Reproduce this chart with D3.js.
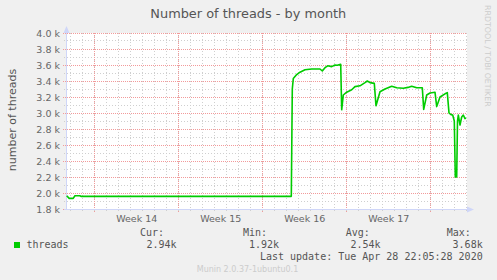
<!DOCTYPE html>
<html>
<head>
<meta charset="utf-8">
<script src="https://cdn.jsdelivr.net/npm/d3@7"></script>
<style>
  html, body { margin: 0; padding: 0; background: #f0f0f0; }
  svg { display: block; }
</style>
</head>
<body>
<div class="chart"></div>
<script>
// sample times (UTC) and thread counts
const times = [
  '2020-03-27T16:00', '2020-03-27T21:00', '2020-03-28T05:00', '2020-03-28T08:30',
  '2020-03-28T18:30', '2020-03-28T20:30', '2020-04-15T09:12', '2020-04-15T11:12',
  '2020-04-15T13:12', '2020-04-15T20:00', '2020-04-16T02:36', '2020-04-16T12:36',
  '2020-04-17T02:00', '2020-04-17T18:36', '2020-04-17T23:12', '2020-04-18T04:36',
  '2020-04-18T10:00', '2020-04-18T18:00', '2020-04-19T00:36', '2020-04-19T05:12',
  '2020-04-19T12:00', '2020-04-19T14:00', '2020-04-19T17:12', '2020-04-20T00:00',
  '2020-04-20T10:00', '2020-04-20T16:36', '2020-04-21T02:36', '2020-04-21T12:36',
  '2020-04-21T17:12', '2020-04-21T22:36', '2020-04-22T07:12', '2020-04-22T10:36',
  '2020-04-22T18:36', '2020-04-23T04:36', '2020-04-23T18:00', '2020-04-24T04:00',
  '2020-04-24T17:12', '2020-04-25T02:36', '2020-04-25T10:00', '2020-04-25T20:00',
  '2020-04-26T07:12', '2020-04-26T10:00', '2020-04-26T16:00', '2020-04-26T22:36',
  '2020-04-27T08:36', '2020-04-27T12:00', '2020-04-27T18:36', '2020-04-28T04:36',
  '2020-04-28T09:12', '2020-04-28T12:36', '2020-04-28T16:36', '2020-04-28T20:00',
  '2020-04-28T23:12', '2020-04-29T01:12', '2020-04-29T04:00', '2020-04-29T05:36',
  '2020-04-29T07:12', '2020-04-29T10:36', '2020-04-29T14:00', '2020-04-29T17:12',
  '2020-04-29T20:36', '2020-04-29T22:36'
];
const threads = [
  1966, 1933, 1933, 1966,
  1966, 1958, 1958, 3300,
  3430, 3480, 3510, 3540,
  3550, 3550, 3525, 3566,
  3590, 3580, 3600, 3596,
  3610, 3040, 3225, 3260,
  3290, 3330, 3340, 3380,
  3400, 3380, 3370, 3090,
  3266, 3300, 3335, 3316,
  3310, 3320, 3335, 3316,
  3316, 3045, 3225, 3250,
  3260, 3080, 3200, 3240,
  3254, 3000, 2980, 2975,
  2900, 2200, 2200, 2900,
  2975, 2850, 2950, 2975,
  2930, 2940
];

const yTicks = [1800, 2000, 2200, 2400, 2600, 2800, 3000, 3200, 3400, 3600, 3800, 4000];
const weekStarts = ['2020-03-30', '2020-04-06', '2020-04-13', '2020-04-20', '2020-04-27'];
const weekLabels = ['Week 14', 'Week 15', 'Week 16', 'Week 17'];
const statNames = ['Cur:', 'Min:', 'Avg:', 'Max:'];
const statValues = ['2.94k', '1.92k', '2.54k', '3.68k'];

const width = 497;
const height = 280;
const parse = d3.utcParse('%Y-%m-%dT%H:%M');
const parseDay = d3.utcParse('%Y-%m-%d');

let svg = d3.select('.chart').append('svg')
  .attr('width', width)
  .attr('height', height)
  .style('font-family', 'DejaVu Sans, sans-serif');

svg.append('rect').attr('width', width).attr('height', height).attr('fill', '#f0f0f0');

let x = d3.scaleUtc()
  .domain([parse('2020-03-27T16:00'), parse('2020-04-30T00:36')])
  .range([66.7, 467]);
let y = d3.scaleLinear().domain([1800, 4000]).range([209, 33]);

const px = v => Math.floor(v) + 0.5;

// canvas
svg.append('rect')
  .attr('x', 67).attr('y', 33)
  .attr('width', 400).attr('height', 176)
  .attr('fill', '#ffffff');

// minor grid
let days = x.ticks(d3.utcDay);
svg.selectAll('.vminor').data(days).enter().append('line')
  .attr('x1', d => px(x(d))).attr('x2', d => px(x(d)))
  .attr('y1', 33).attr('y2', 211)
  .attr('stroke', '#cfcfcf').attr('stroke-dasharray', '1,2');
let minors = d3.range(1900, 4000, 200);
svg.selectAll('.hminor').data(minors).enter().append('line')
  .attr('x1', 64).attr('x2', 467)
  .attr('y1', d => px(y(d))).attr('y2', d => px(y(d)))
  .attr('stroke', '#cfcfcf').attr('stroke-dasharray', '1,2');

// major grid
let weeks = weekStarts.map(parseDay);
svg.selectAll('.vmajor').data(weeks).enter().append('line')
  .attr('x1', d => px(x(d))).attr('x2', d => px(x(d)))
  .attr('y1', 33).attr('y2', 212)
  .attr('stroke', '#f29a9a').attr('stroke-dasharray', '1,1');
svg.selectAll('.hmajor').data(yTicks).enter().append('line')
  .attr('x1', 63).attr('x2', 467)
  .attr('y1', d => px(y(d))).attr('y2', d => px(y(d)))
  .attr('stroke', '#f29a9a').attr('stroke-dasharray', '1,1');

// axes with arrows
svg.append('line').attr('x1', 66.5).attr('x2', 66.5).attr('y1', 30).attr('y2', 210)
  .attr('stroke', '#cfd6f8');
svg.append('line').attr('x1', 64).attr('x2', 470).attr('y1', 209.5).attr('y2', 209.5)
  .attr('stroke', '#cfd6f8');
svg.append('path').attr('d', 'M63.5,33 L66.5,26 L69.5,33 Z').attr('fill', '#cfd6f8');
svg.append('path').attr('d', 'M467,206.5 L474,209.5 L467,212.5 Z').attr('fill', '#cfd6f8');

// y tick labels
svg.selectAll('.ylab').data(yTicks).enter().append('text')
  .attr('x', 60).attr('y', d => y(d) + 3.6)
  .attr('text-anchor', 'end')
  .style('font-size', '9.5px').style('fill', '#666')
  .text(d => d3.format('.1f')(d / 1000) + ' k');

// week labels centred between week lines
svg.selectAll('.xlab').data(weekLabels).enter().append('text')
  .attr('x', (d, i) => (x(weeks[i]) + x(weeks[i + 1])) / 2)
  .attr('y', 221.5)
  .attr('text-anchor', 'middle')
  .style('font-size', '9.5px').style('fill', '#666')
  .text(d => d);

// series
let pts = times.map((t, i) => [parse(t), threads[i]]);
svg.append('path')
  .datum(pts)
  .attr('fill', 'none')
  .attr('stroke', '#00cc00')
  .attr('stroke-width', 1.6)
  .attr('stroke-linejoin', 'round')
  .attr('d', d3.line().x(d => x(d[0])).y(d => y(d[1])));

// title and labels
svg.append('text').attr('x', 248.3).attr('y', 17.5).attr('text-anchor', 'middle')
  .style('font-size', '12.9px').style('fill', '#555')
  .text('Number of threads - by month');
svg.append('text').attr('transform', 'translate(15.5,120) rotate(-90)')
  .attr('text-anchor', 'middle')
  .style('font-size', '11px').style('fill', '#555')
  .text('number of threads');
svg.append('text').attr('transform', 'translate(485,5) rotate(90)')
  .style('font-size', '7.9px').style('fill', '#cccccc')
  .text('RRDTOOL / TOBI OETIKER');

// legend
let mono = 'DejaVu Sans Mono, monospace';
svg.append('rect').attr('x', 14).attr('y', 242).attr('width', 6).attr('height', 6)
  .attr('fill', '#00cc00');
svg.append('text').attr('x', 26.5).attr('y', 248)
  .style('font-family', mono).style('font-size', '10px').style('fill', '#555')
  .text('threads');
const statNameX = [140, 243, 345.7, 446.7];
const statValX = [176.5, 279, 380.5, 482.7];
svg.selectAll('.sname').data(statNames).enter().append('text')
  .attr('x', (d, i) => statNameX[i]).attr('y', 236)
  .style('font-family', mono).style('font-size', '10px').style('fill', '#555')
  .text(d => d);
svg.selectAll('.sval').data(statValues).enter().append('text')
  .attr('x', (d, i) => statValX[i]).attr('y', 248)
  .attr('text-anchor', 'end')
  .style('font-family', mono).style('font-size', '10px').style('fill', '#555')
  .text(d => d);
svg.append('text').attr('x', 482.7).attr('y', 260).attr('text-anchor', 'end')
  .style('font-family', mono).style('font-size', '10px').style('fill', '#555')
  .text('Last update: Tue Apr 28 22:05:28 2020');
svg.append('text').attr('x', 247.5).attr('y', 272.3).attr('text-anchor', 'middle')
  .style('font-size', '8px').style('fill', '#cccccc')
  .text('Munin 2.0.37-1ubuntu0.1');
</script>
</body>
</html>
